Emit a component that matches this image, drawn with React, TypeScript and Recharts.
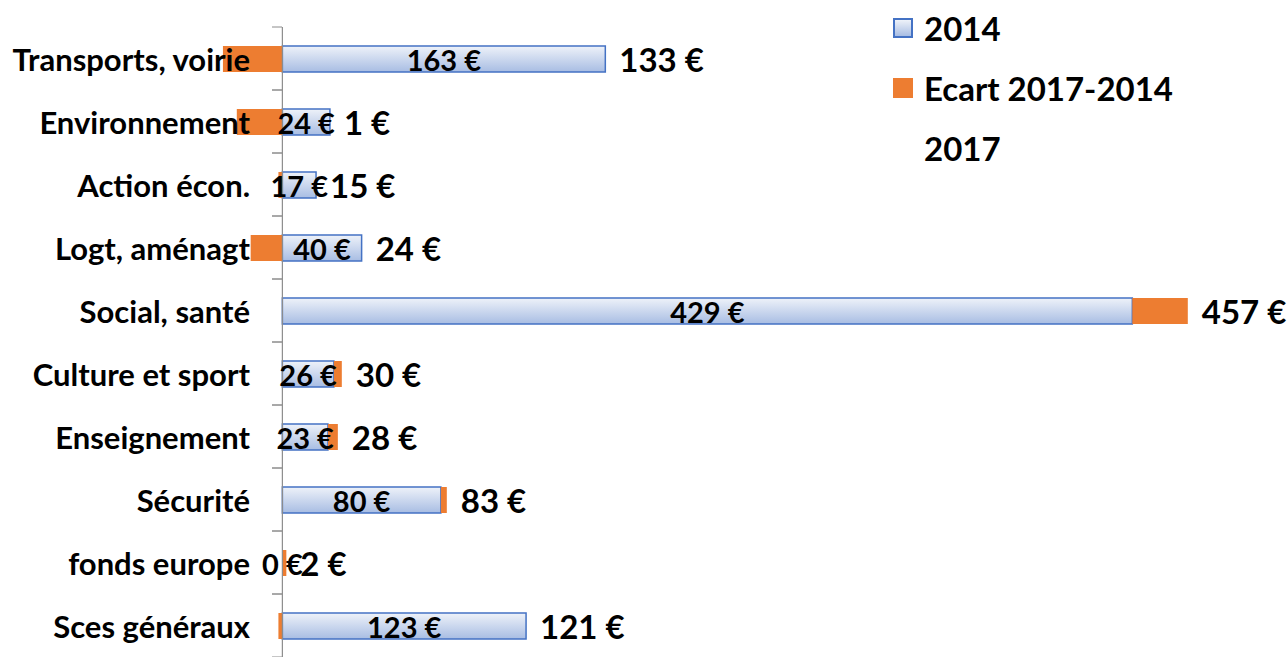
import { Bar, BarChart, LabelList, ReferenceLine, XAxis, YAxis } from "recharts";

const categories = [
  "Transports, voirie",
  "Environnement",
  "Action écon.",
  "Logt, aménagt",
  "Social, santé",
  "Culture et sport",
  "Enseignement",
  "Sécurité",
  "fonds europe",
  "Sces généraux",
];
const values2014 = [163, 24, 17, 40, 429, 26, 23, 80, 0, 123];
const ecart = [-30, -23, -2, -16, 28, 4, 5, 3, 2, -2];
const values2017 = [133, 1, 15, 24, 457, 30, 28, 83, 2, 121];
const legendLabels = ["2014", "Ecart 2017-2014", "2017"];

const data = categories.map((cat, i) => ({
  cat,
  v2014: values2014[i],
  ecart: ecart[i],
  v2017: values2017[i],
}));

const FONT = "Lato, 'Open Sans', sans-serif";
const ORANGE = "#ED7D31";
const BLUE = "#4472C4";
const AXIS_X = 282;
const BAND = 63;

function CatTick({ y, payload }: any) {
  return (
    <g>
      <line x1={AXIS_X - 10} x2={AXIS_X} y1={y - BAND / 2} y2={y - BAND / 2} stroke="#8c8c8c" />
      <line x1={AXIS_X - 10} x2={AXIS_X} y1={y + BAND / 2} y2={y + BAND / 2} stroke="#8c8c8c" />
      <text x={250} y={y} textAnchor="end" dominantBaseline="central" fontFamily={FONT} fontWeight={700} fontSize={31} fill="#000">
        {payload.value}
      </text>
    </g>
  );
}

function box(props: any) {
  const vb = props.viewBox ?? props;
  const x = Number(vb.x);
  const w = Number(vb.width);
  return { left: Math.min(x, x + w), right: Math.max(x, x + w), y: Number(vb.y), height: Number(vb.height) };
}

function valueText(x: number, y: number, anchor: "middle" | "start", size: number, text: string) {
  return (
    <text x={x} y={y} textAnchor={anchor} dominantBaseline="central" fontFamily={FONT} fontWeight={700} fontSize={size} fill="#000">
      {text}
    </text>
  );
}

// label centered in the 2014 bar
function InnerLabel(props: any) {
  const { left, right, y, height } = box(props);
  return valueText((left + right) / 2, y + height / 2, "middle", 29, `${props.value} €`);
}

// 2017 total, written past the end of the positive stack
function TotalLabel(props: any) {
  const { left, right, y, height } = box(props);
  const i = props.index;
  const diff = ecart[i];
  const perUnit = (right - left) / Math.abs(diff);
  const zero = diff < 0 ? right : left;
  const end = diff < 0 ? zero + values2014[i] * perUnit : right;
  return (
    <g>
      {values2014[i] === 0 && valueText(zero, y + height / 2, "middle", 29, `${values2014[i]} €`)}
      {valueText(end + 14, y + height / 2, "start", 33, `${values2017[i]} €`)}
    </g>
  );
}

function LegendBox() {
  const swatches = [
    { background: "linear-gradient(#EEF2F9, #A8BDE3)", border: `2px solid ${BLUE}` },
    { background: ORANGE, border: "none" },
    { background: "transparent", border: "none" },
  ];
  return (
    <div style={{ position: "absolute", left: 893, top: -2, fontFamily: FONT, fontWeight: 700, fontSize: 33, color: "#000" }}>
      {legendLabels.map((label, i) => (
        <div key={label} style={{ display: "flex", alignItems: "center", height: 60 }}>
          <span
            style={{
              display: "inline-block",
              width: 20,
              height: 20,
              marginRight: 11,
              boxSizing: "border-box",
              background: swatches[i].background,
              border: swatches[i].border,
            }}
          />
          <span>{label}</span>
        </div>
      ))}
    </div>
  );
}

export default function App() {
  return (
    <div style={{ position: "absolute", left: 0, top: 0, width: 1288, height: 657, background: "#fff" }}>
      <BarChart
        width={1288}
        height={657}
        data={data}
        layout="vertical"
        stackOffset="sign"
        margin={{ top: 27, right: 15, bottom: 0, left: 4 }}
      >
        <defs>
          <linearGradient id="fill2014" x1="0" x2="0" y1="0" y2="1">
            <stop offset="0%" stopColor="#EEF2F9" />
            <stop offset="100%" stopColor="#A8BDE3" />
          </linearGradient>
        </defs>
        <XAxis type="number" domain={[-140, 500]} hide allowDataOverflow />
        <YAxis type="category" dataKey="cat" width={1} axisLine={false} tickLine={false} tick={<CatTick />} interval={0} />
        <Bar dataKey="v2014" stackId="a" barSize={26} fill="url(#fill2014)" stroke={BLUE} strokeWidth={1.5} isAnimationActive={false}>
          <LabelList dataKey="v2014" content={<InnerLabel />} />
        </Bar>
        <Bar dataKey="ecart" stackId="a" barSize={26} fill={ORANGE} isAnimationActive={false}>
          <LabelList dataKey="v2017" content={<TotalLabel />} />
        </Bar>
        <ReferenceLine x={0} stroke="#8c8c8c" strokeWidth={1.2} />
      </BarChart>
      <LegendBox />
    </div>
  );
}
